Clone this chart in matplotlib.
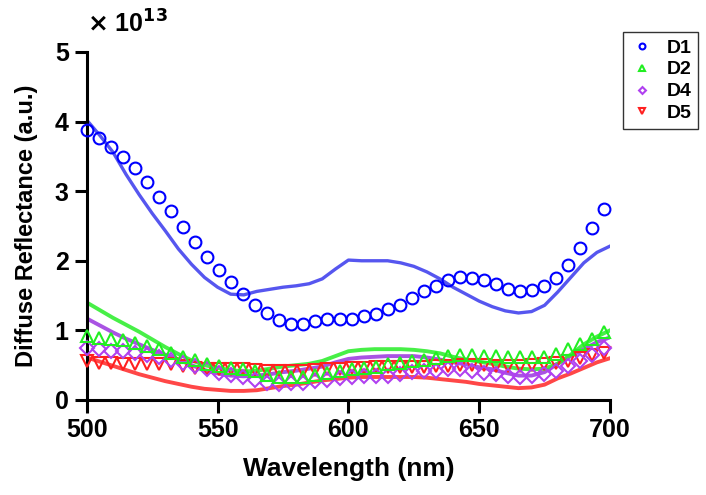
import matplotlib
matplotlib.use("Agg")
import matplotlib.pyplot as plt
import numpy as np

# marker series (44 samples) and fitted curves (5 nm grid), values in units of 1e13
wl_pts = np.linspace(500, 697.8, 44)
wl_fit = np.arange(500, 701, 5)

d1_pts = [3.88, 3.76, 3.64, 3.49, 3.34, 3.13, 2.92, 2.71, 2.48, 2.27, 2.05,
          1.87, 1.69, 1.52, 1.36, 1.25, 1.15, 1.09, 1.09, 1.13, 1.16, 1.16,
          1.16, 1.20, 1.23, 1.30, 1.37, 1.46, 1.56, 1.64, 1.72, 1.76, 1.75,
          1.72, 1.67, 1.60, 1.57, 1.58, 1.64, 1.75, 1.94, 2.18, 2.47, 2.74]
d2_pts = [0.92, 0.89, 0.88, 0.86, 0.82, 0.77, 0.73, 0.68, 0.62, 0.57, 0.52,
          0.49, 0.46, 0.45, 0.42, 0.36, 0.33, 0.33, 0.33, 0.36, 0.39, 0.42,
          0.44, 0.46, 0.48, 0.51, 0.53, 0.56, 0.58, 0.61, 0.63, 0.64, 0.64,
          0.63, 0.63, 0.62, 0.62, 0.62, 0.62, 0.66, 0.73, 0.80, 0.88, 0.97]
d4_pts = [0.75, 0.73, 0.71, 0.70, 0.68, 0.65, 0.62, 0.58, 0.53, 0.49, 0.44,
          0.39, 0.36, 0.33, 0.29, 0.25, 0.23, 0.25, 0.25, 0.27, 0.29, 0.32,
          0.33, 0.34, 0.34, 0.34, 0.37, 0.40, 0.42, 0.41, 0.44, 0.45, 0.42,
          0.39, 0.37, 0.34, 0.33, 0.34, 0.38, 0.41, 0.49, 0.56, 0.64, 0.74]
d5_pts = [0.56, 0.53, 0.53, 0.52, 0.52, 0.51, 0.51, 0.51, 0.49, 0.46, 0.45,
          0.45, 0.45, 0.45, 0.43, 0.42, 0.42, 0.42, 0.42, 0.43, 0.44, 0.45,
          0.46, 0.46, 0.47, 0.47, 0.48, 0.48, 0.48, 0.49, 0.49, 0.50, 0.50,
          0.50, 0.49, 0.49, 0.49, 0.50, 0.51, 0.53, 0.56, 0.60, 0.64, 0.68]

d1_fit = [4.02, 3.80, 3.56, 3.24, 2.95, 2.68, 2.43, 2.17, 1.95, 1.76, 1.62,
          1.52, 1.51, 1.56, 1.59, 1.62, 1.64, 1.67, 1.74, 1.88, 2.01, 2.00,
          2.00, 2.00, 1.97, 1.92, 1.84, 1.74, 1.62, 1.52, 1.42, 1.34, 1.28,
          1.25, 1.27, 1.36, 1.55, 1.76, 1.97, 2.12, 2.21]
d2_fit = [1.40, 1.29, 1.18, 1.08, 0.98, 0.87, 0.76, 0.66, 0.57, 0.50, 0.46,
          0.43, 0.41, 0.42, 0.45, 0.48, 0.50, 0.52, 0.56, 0.63, 0.70, 0.72,
          0.73, 0.73, 0.73, 0.72, 0.70, 0.67, 0.62, 0.58, 0.55, 0.52, 0.48,
          0.45, 0.44, 0.45, 0.52, 0.65, 0.80, 0.91, 1.00]
d4_fit = [1.17, 1.07, 0.97, 0.88, 0.80, 0.72, 0.65, 0.58, 0.50, 0.43, 0.38,
          0.35, 0.34, 0.35, 0.37, 0.40, 0.42, 0.45, 0.48, 0.54, 0.59, 0.61,
          0.62, 0.63, 0.63, 0.63, 0.61, 0.58, 0.54, 0.51, 0.47, 0.44, 0.39,
          0.35, 0.35, 0.40, 0.52, 0.63, 0.73, 0.83, 0.90]
d5_fit = [0.61, 0.55, 0.49, 0.43, 0.37, 0.32, 0.27, 0.23, 0.19, 0.16, 0.145,
          0.13, 0.13, 0.14, 0.17, 0.20, 0.22, 0.25, 0.28, 0.30, 0.32, 0.33,
          0.33, 0.33, 0.33, 0.33, 0.32, 0.30, 0.28, 0.26, 0.23, 0.21, 0.19,
          0.17, 0.18, 0.22, 0.31, 0.38, 0.46, 0.54, 0.60]

labels = ["D1", "D2", "D4", "D5"]
markers = ["o", "^", "D", "v"]
mk_colors = ["#0000ff", "#22ee22", "#b040f0", "#ff2020"]
ln_colors = ["#4444ee", "#33ee33", "#a040e0", "#ff3333"]

narrow = ["Liberation Sans Narrow", "Liberation Sans", "DejaVu Sans"]
plt.rcParams["font.family"] = ["Liberation Sans", "DejaVu Sans"]
plt.rcParams["font.weight"] = "bold"

fig = plt.figure(figsize=(7.06, 4.95), dpi=100)
ax = fig.add_axes([0.123, 0.192, 0.741, 0.703])

pts = [d1_pts, d2_pts, d4_pts, d5_pts]
fits = [d1_fit, d2_fit, d4_fit, d5_fit]

for i in [3, 2, 1, 0]:
    lw = 2.4 if i == 0 else 2.8
    ax.plot(wl_fit, fits[i], color=ln_colors[i], lw=lw, alpha=0.9, zorder=2)

handles = []
for i in [3, 2, 1, 0]:
    ms = 8.5 if markers[i] != "D" else 7
    h, = ax.plot(wl_pts, pts[i], linestyle="none", marker=markers[i], ms=ms,
                 mfc="none", mec=mk_colors[i], mew=1.5, label=labels[i],
                 zorder=3, clip_on=False)
    handles.append(h)
handles = handles[::-1]

ax.set_xlim(500, 700)
ax.set_ylim(0, 5)
ax.set_xticks([500, 550, 600, 650, 700])
ax.set_yticks([0, 1, 2, 3, 4, 5])

for s in ["top", "right"]:
    ax.spines[s].set_visible(False)
for s in ["left", "bottom"]:
    ax.spines[s].set_linewidth(2.2)
ax.tick_params(length=9, width=2.2, direction="out", pad=4)
for lab in ax.get_xticklabels() + ax.get_yticklabels():
    lab.set_family(narrow)
    lab.set_fontsize(18)
    lab.set_fontweight("bold")

ax.set_xlabel("Wavelength (nm)", fontsize=19, fontweight="bold", labelpad=11)
ax.set_ylabel("Diffuse Reflectance (a.u.)", fontsize=17, fontweight="bold",
              labelpad=12)

fig.text(0.123, 0.935, r"$\times$ 10$^{\mathbf{13}}$", fontsize=18,
         fontweight="bold", ha="left", va="baseline")

fig.legend(handles=handles, loc="upper left", bbox_to_anchor=(0.8825, 0.935),
           borderaxespad=0, markerscale=0.5, frameon=True, fancybox=False,
           edgecolor="#333333", framealpha=1, handlelength=1.3,
           handletextpad=0.6, borderpad=0.35, labelspacing=0.22,
           prop={"weight": "bold", "size": 14})

fig.savefig("out.png", dpi=100)
